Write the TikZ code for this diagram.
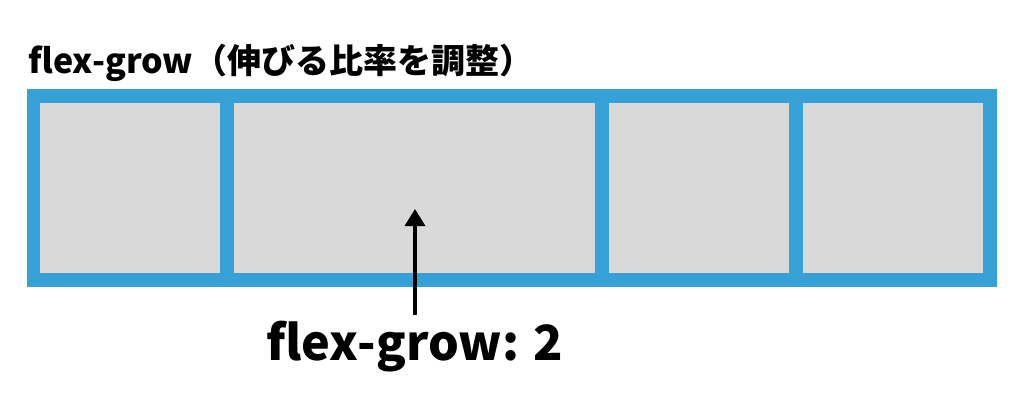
\documentclass[tikz,border=0pt]{standalone}
\usepackage{fontspec}
\setmainfont{Noto Sans CJK JP}
\usepackage{tikz}
\usetikzlibrary{arrows.meta, positioning}
\definecolor{FlexBlue}{HTML}{36A1D7}
\definecolor{ItemGray}{HTML}{D9D9D9}

\begin{document}
\begin{tikzpicture}[x=1pt, y=-1pt,
    item/.style={fill=ItemGray, draw=none, inner sep=0, outer sep=0,
      minimum height=170pt},
    container/.style={fill=FlexBlue, draw=none, inner sep=0, outer sep=0}]
  \useasboundingbox (0,0) rectangle (1024,405);
  % Title
  \node[anchor=base west, inner sep=0, font=\bfseries\fontsize{34}{34}\selectfont] (title)
    at (28,73) {flex-grow（伸びる比率を調整）};
  % Flex container
  \node[container, minimum width=970pt, minimum height=198pt] (row) at (512,188) {};
  % Items
  \node[item, minimum width=180.2pt] (b1) at (130.1,188) {};
  \node[item, minimum width=360.4pt, right=14pt of b1] (b2) {};
  \node[item, minimum width=180.2pt, right=14pt of b2] (b3) {};
  \node[item, minimum width=180.2pt, right=14pt of b3] (b4) {};
  % Label and arrow
  \node[anchor=base, inner sep=0, font=\bfseries\fontsize{48.5}{48.5}\selectfont] (label)
    at (415,360) {flex-grow: 2};
  \coordinate (tip) at (415,209);
  \draw[-{Triangle[length=17pt, width=20pt]}, line width=3.5pt]
    ([yshift=5pt]label.north) -- (tip);
\end{tikzpicture}
\end{document}
